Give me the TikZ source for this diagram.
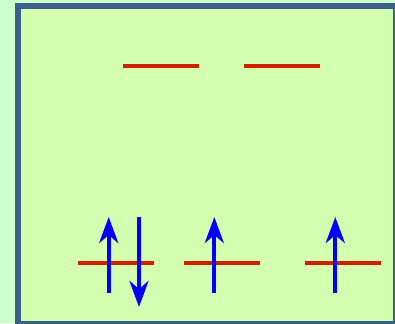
\documentclass[tikz,border=0pt]{standalone}
\usetikzlibrary{arrows.meta}
\definecolor{outerbg}{RGB}{204,255,204}
\definecolor{boxfill}{RGB}{212,255,176}
\definecolor{boxborder}{RGB}{60,94,138}
\definecolor{levelred}{RGB}{204,34,0}
\definecolor{spinblue}{RGB}{0,0,255}
\tikzset{
  level/.style={draw=levelred, line width=4pt},
  spin/.style={draw=spinblue, line width=4pt, -{Stealth[length=26pt, width=19pt, inset=8pt]}},
}
\begin{document}
\begin{tikzpicture}[x=1pt,y=-1pt]
\useasboundingbox (0,0) rectangle (395,323);
\fill[outerbg] (0,0) rectangle (395,323);
\begin{scope}
\clip (0,0) rectangle (395,323);
\draw[boxborder, fill=boxfill, line width=6pt] (18,6) rectangle (396,324);
\end{scope}
% upper levels
\draw[level] (123,66.5) -- (199,66.5);
\draw[level] (244,66.5) -- (320,66.5);
% lower levels
\draw[level] (78,263) -- (154,263);
\draw[level] (184,263) -- (260,263);
\draw[level] (305,263) -- (381,263);
% spins
\coordinate (a1) at (108.7,293); \coordinate (b1) at (108.7,217);
\coordinate (a2) at (139,217); \coordinate (b2) at (139,307);
\coordinate (a3) at (214.3,293); \coordinate (b3) at (214.3,217);
\coordinate (a4) at (335.3,293); \coordinate (b4) at (335.3,217);
\draw[spin] (a1) -- (b1);
\draw[spin] (a2) -- (b2);
\draw[spin] (a3) -- (b3);
\draw[spin] (a4) -- (b4);
\end{tikzpicture}
\end{document}
